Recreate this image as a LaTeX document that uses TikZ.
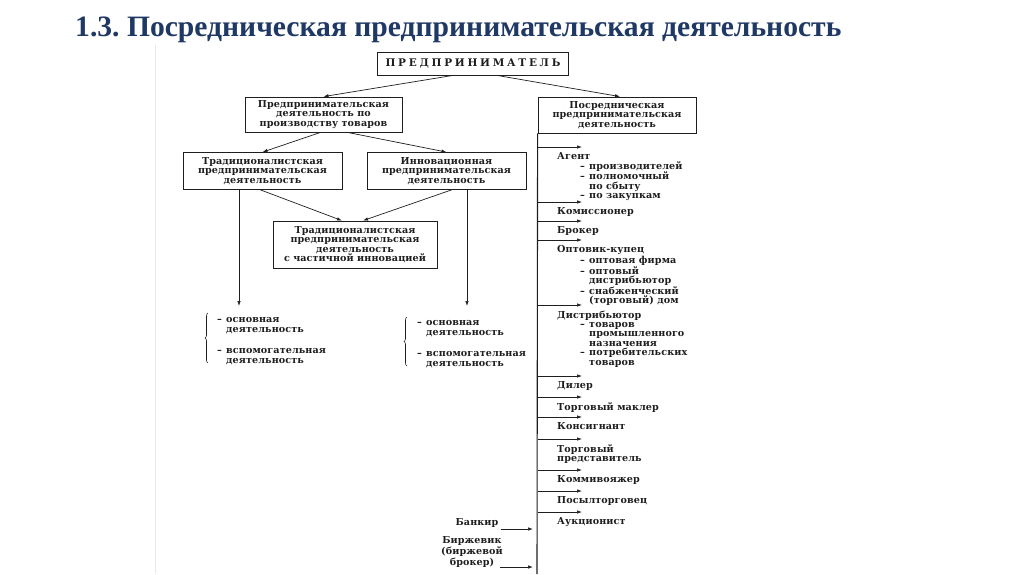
\documentclass[tikz,border=0pt]{standalone}
\usepackage{fontspec}
\setmainfont{Liberation Serif}
\newfontfamily\scanfont[LetterSpace=1,BoldFont={DejaVu Serif Bold}]{DejaVu Serif}
\newfontfamily\scancaps[LetterSpace=26]{DejaVu Serif}
\definecolor{ttlblue}{RGB}{31,56,100}
\definecolor{inkgray}{RGB}{30,30,30}
\definecolor{edgegray}{RGB}{232,232,232}
\usetikzlibrary{arrows.meta,positioning,decorations.pathreplacing}
\tikzset{
  arr/.style={-{Latex[length=5pt,width=3.5pt]},inkgray,line width=0.7pt},
  spn/.style={inkgray,line width=1.1pt},
  box/.style={draw=inkgray,line width=0.8pt,inner sep=0pt,align=center,
    font=\scanfont\bfseries\fontsize{9.6}{9.4}\selectfont,text=inkgray},
  itm/.style={inner sep=0pt,align=left,anchor=north west,text=inkgray,
    font=\scanfont\bfseries\fontsize{9.6}{9.4}\selectfont,execute at begin node=\strut},
  brc/.style={decorate,decoration={brace,amplitude=3pt},inkgray,line width=0.6pt},
  ttl/.style={font=\fontsize{29.6}{34}\selectfont\bfseries\frenchspacing,text=ttlblue,inner sep=0pt},
}
\newcommand{\dashmark}{\makebox[9pt][l]{–}}
\newcommand{\dashskip}{\hspace*{9pt}}
\newcommand{\subitm}{\hspace*{23pt}\dashmark}
\newcommand{\subcnt}{\hspace*{23pt}\dashskip}
\begin{document}
\begin{tikzpicture}[x=1pt,y=-1pt]
  \useasboundingbox (0,0) rectangle (1024,574);
  \draw[edgegray] (155,45) -- (155,574);
  \node[ttl,anchor=base west] (title) at (75,36) {1.3. Посредническая предпринимательская деятельность};
  % блоки
  \node[box,minimum width=191pt,minimum height=23pt,font=\scancaps\bfseries\fontsize{10.5}{10}\selectfont] (boss) at (473,63.5) {ПРЕДПРИНИМАТЕЛЬ};
  \node[box,minimum width=157pt,minimum height=35pt] (prod) at (323.5,114.5) {Предпринимательская\\деятельность по\\производству товаров};
  \node[box,minimum width=158pt,minimum height=36pt] (posr) at (617,115) {Посредническая\\предпринимательская\\деятельность};
  \node[box,minimum width=159pt,minimum height=37pt] (trad) at (262.5,171) {Традиционалистская\\предпринимательская\\деятельность};
  \node[box,minimum width=159pt,minimum height=37pt] (innov) at (446.5,171) {Инновационная\\предпринимательская\\деятельность};
  \node[box,minimum width=164pt,minimum height=47pt] (mix) at (355,244.5) {Традиционалистская\\предпринимательская\\деятельность\\с частичной инновацией};
  \draw[arr] ([xshift=-20pt]boss.south) -- (prod.north);
  \draw[arr] ([xshift=24pt]boss.south) -- ([xshift=3pt]posr.north);
  \draw[arr] ([xshift=-3pt]prod.south) -- (trad.north);
  \draw[arr] ([xshift=24pt]prod.south) -- (innov.north);
  \draw[arr] ([xshift=-2pt]trad.south) -- ([xshift=-13pt]mix.north);
  \draw[arr] ([xshift=5pt]innov.south) -- ([xshift=8pt]mix.north);
  \coordinate (trad-end) at (239,306);
  \coordinate (innov-end) at (467,306);
  \draw[arr] (trad.south -| trad-end) -- (trad-end);
  \draw[arr] (innov.south -| innov-end) -- (innov-end);
  % виды деятельности
  \draw[brc] (208,363) -- (208,313);
  \node[itm] (osnL) at (217,317.5) {\dashmark основная\\\dashskip деятельность};
  \node[itm] (vspL) at (217,348.5) {\dashmark вспомогательная\\\dashskip деятельность};
  \draw[brc] (407,366) -- (407,317);
  \node[itm] (osnR) at (417,320.5) {\dashmark основная\\\dashskip деятельность};
  \node[itm] (vspR) at (417,351.5) {\dashmark вспомогательная\\\dashskip деятельность};
  % посредники
  \coordinate (spine-end) at (537,574);
  \draw[spn] (posr.south west) -- (spine-end);
  \node[itm] (agent) at (557,152.5) {Агент\\\subitm производителей\\\subitm полномочный\\\subcnt по сбыту\\\subitm по закупкам};
  \node[itm] (komis) at (557,207.5) {Комиссионер};
  \node[itm] (broker) at (557,226.5) {Брокер};
  \node[itm] (opt) at (557,245.5) {Оптовик-купец\\\subitm оптовая фирма\\\subitm оптовый\\\subcnt дистрибьютор\\\subitm снабженческий\\\subcnt (торговый) дом};
  \node[itm] (distr) at (557,310.5) {Дистрибьютор\\\subitm товаров\\\subcnt промышленного\\\subcnt назначения\\\subitm потребительских\\\subcnt товаров};
  \node[itm] (diler) at (557,381.5) {Дилер};
  \node[itm] (makler) at (557,402.5) {Торговый маклер};
  \node[itm] (konsig) at (557,422.5) {Консигнант};
  \node[itm] (predst) at (557,444.5) {Торговый\\представитель};
  \node[itm] (kommi) at (557,475.5) {Коммивояжер};
  \node[itm] (posyl) at (557,496.5) {Посылторговец};
  \node[itm] (aukc) at (557,517.5) {Аукционист};
  \foreach \n in {agent,komis,broker,opt,distr,diler,makler,konsig,predst,kommi,posyl,aukc}{%
    \coordinate (\n-tip) at ([xshift=25pt,yshift=5.5pt]\n.north west);
    \draw[arr] (posr.south west |- \n-tip) -- (\n-tip);}
  % входящие
  \node[itm,anchor=north,align=center] (bank) at (477,518.5) {Банкир};
  \node[itm,anchor=north,align=center] (birzh) at (472,536.5) {Биржевик\\(биржевой\\брокер)};
  \coordinate (bank-in) at (533,529);
  \coordinate (birzh-in) at (533,567);
  \draw[arr] ([xshift=2pt]bank.east |- bank-in) -- (bank-in);
  \draw[arr] ([xshift=-3pt]birzh.east |- birzh-in) -- (birzh-in);
\end{tikzpicture}
\end{document}
